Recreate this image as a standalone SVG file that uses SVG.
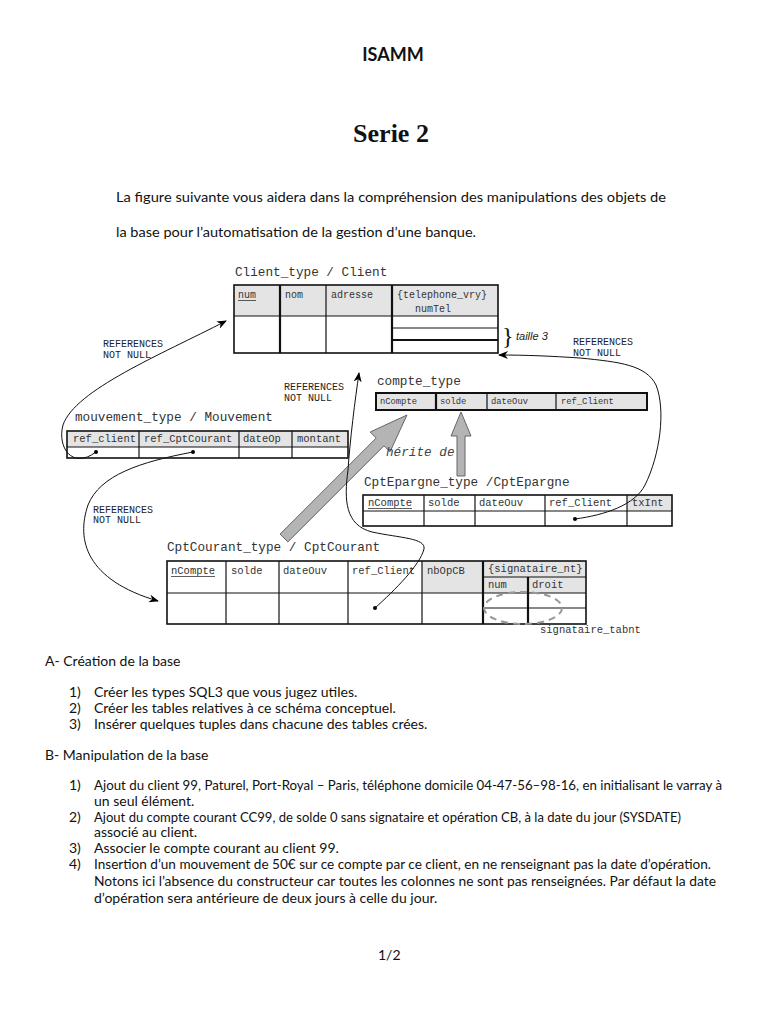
<svg xmlns="http://www.w3.org/2000/svg" width="768" height="1024" viewBox="0 0 768 1024">
<style>
.doc{font-family:Lato,"Liberation Sans",sans-serif;font-size:14px;fill:#111}
.mono{font-family:"Liberation Mono","DejaVu Sans Mono",monospace;fill:#333}
.ttl{font-size:12.7px}
.hd{font-size:10.5px}
.sm{font-size:8.8px}
.ref{font-family:"Liberation Mono",monospace;font-size:10px;fill:#222}
.tb{fill:none;stroke:#111;stroke-width:1.6}
.ln{stroke:#111;stroke-width:1.2}
.thk{stroke:#111;stroke-width:2.2}
.gr{fill:#e4e4e4}
.con{fill:none;stroke:#111;stroke-width:1}
.inh{fill:#b4b4b4;stroke:#666;stroke-width:1}
.dot{fill:#000}
</style>
<defs>
<marker id="ah" viewBox="0 0 10 8" refX="9" refY="4" markerWidth="10" markerHeight="8" markerUnits="userSpaceOnUse" orient="auto">
<path d="M0,0 L10,4 L0,8 L3,4 z" fill="#000"/>
</marker>
</defs>
<rect width="768" height="1024" fill="#fff"/>

<text x="393" y="61" text-anchor="middle" style="font-family:Lato,'Liberation Sans',sans-serif;font-weight:bold;font-size:18px;fill:#111">ISAMM</text>
<text x="391" y="142" text-anchor="middle" style="font-family:'Liberation Serif','DejaVu Serif',serif;font-weight:bold;font-size:26px;fill:#111">Serie 2</text>
<text class="doc" x="116" y="202" textLength="550" lengthAdjust="spacingAndGlyphs">La figure suivante vous aidera dans la compréhension des manipulations des objets de</text>
<text class="doc" x="116" y="237" textLength="360" lengthAdjust="spacingAndGlyphs">la base pour l’automatisation de la gestion d’une banque.</text>

<g id="client">
<text class="mono ttl" x="235" y="276">Client_type / Client</text>
<rect class="gr" x="234" y="285" width="264" height="31"/>
<rect class="tb" x="234" y="285" width="264" height="68"/>
<line class="thk" x1="280" y1="285" x2="280" y2="353"/>
<line class="ln" x1="326" y1="285" x2="326" y2="353"/>
<line class="thk" x1="392" y1="285" x2="392" y2="353"/>
<line class="ln" x1="234" y1="316" x2="498" y2="316"/>
<line class="ln" x1="392" y1="328" x2="498" y2="328"/>
<line class="thk" x1="392" y1="340" x2="498" y2="340"/>
<text class="mono hd" x="238" y="298" style="font-size:10px">num</text>
<line x1="238" y1="300.5" x2="256" y2="300.5" stroke="#333" stroke-width="0.8"/>
<text class="mono hd" x="285" y="298" style="font-size:10px">nom</text>
<text class="mono hd" x="331" y="298" style="font-size:10px">adresse</text>
<text class="mono hd" x="397" y="298" style="font-size:10px">{telephone_vry}</text>
<text class="mono hd" x="415" y="312" style="font-size:10px">numTel</text>
<text x="502" y="344" style="font-family:'Liberation Serif',serif;font-size:24px;fill:#111">}</text>
<text x="516" y="340" style="font-family:'Liberation Sans',sans-serif;font-style:italic;font-size:11px;fill:#222">taille 3</text>
</g>

<g id="mouvement">
<text class="mono ttl" x="75" y="421">mouvement_type / Mouvement</text>
<rect class="gr" x="67" y="431" width="281" height="16"/>
<rect class="tb" x="67" y="431" width="281" height="27"/>
<line class="ln" x1="139" y1="431" x2="139" y2="458"/>
<line class="ln" x1="239" y1="431" x2="239" y2="458"/>
<line class="ln" x1="292" y1="431" x2="292" y2="458"/>
<line class="ln" x1="67" y1="447" x2="348" y2="447"/>
<text class="mono hd" x="73" y="442">ref_client</text>
<text class="mono hd" x="144" y="442">ref_CptCourant</text>
<text class="mono hd" x="243" y="442">dateOp</text>
<text class="mono hd" x="297" y="442">montant</text>
<circle class="dot" cx="96" cy="452" r="2"/>
<circle class="dot" cx="193" cy="452" r="2"/>
</g>

<g id="compte">
<text class="mono ttl" x="377" y="385">compte_type</text>
<rect class="gr" x="376" y="393" width="271" height="17"/>
<rect class="tb" x="376" y="393" width="271" height="17" style="stroke-width:2"/>
<line class="thk" x1="436" y1="393" x2="436" y2="410"/>
<line class="ln" x1="487" y1="393" x2="487" y2="410"/>
<line class="ln" x1="556" y1="393" x2="556" y2="410"/>
<text class="mono sm" x="380" y="404">nCompte</text>
<text class="mono sm" x="440" y="404">solde</text>
<text class="mono sm" x="491" y="404">dateOuv</text>
<text class="mono sm" x="561" y="404">ref_Client</text>
</g>

<g id="cptepargne">
<text class="mono ttl" x="364" y="486">CptEpargne_type /CptEpargne</text>
<rect class="gr" x="627" y="495" width="45" height="16"/>
<rect class="tb" x="363" y="495" width="309" height="31"/>
<line class="ln" x1="424" y1="495" x2="424" y2="526"/>
<line class="ln" x1="475" y1="495" x2="475" y2="526"/>
<line class="ln" x1="545" y1="495" x2="545" y2="526"/>
<line class="ln" x1="627" y1="495" x2="627" y2="526"/>
<line class="ln" x1="363" y1="511" x2="672" y2="511"/>
<text class="mono hd" x="368" y="506">nCompte</text>
<line x1="368" y1="508.5" x2="412" y2="508.5" stroke="#333" stroke-width="0.8"/>
<text class="mono hd" x="428" y="506">solde</text>
<text class="mono hd" x="479" y="506">dateOuv</text>
<text class="mono hd" x="549" y="506">ref_Client</text>
<text class="mono hd" x="632" y="506">txInt</text>
<circle class="dot" cx="575" cy="519" r="2"/>
</g>

<g id="cptcourant">
<text class="mono ttl" x="167" y="551">CptCourant_type / CptCourant</text>
<rect class="gr" x="422" y="561" width="164" height="32"/>
<rect class="tb" x="167" y="561" width="419" height="63"/>
<line class="ln" x1="226" y1="561" x2="226" y2="624"/>
<line class="ln" x1="279" y1="561" x2="279" y2="624"/>
<line class="ln" x1="348" y1="561" x2="348" y2="624"/>
<line class="ln" x1="422" y1="561" x2="422" y2="624"/>
<line class="thk" x1="483" y1="561" x2="483" y2="624"/>
<line class="ln" x1="167" y1="593" x2="586" y2="593"/>
<line class="ln" x1="483" y1="577" x2="586" y2="577"/>
<line class="ln" x1="483" y1="608" x2="586" y2="608"/>
<line class="thk" x1="528" y1="577" x2="528" y2="624"/>
<text class="mono hd" x="171" y="574">nCompte</text>
<line x1="171" y1="576.5" x2="215" y2="576.5" stroke="#333" stroke-width="0.8"/>
<text class="mono hd" x="231" y="574">solde</text>
<text class="mono hd" x="283" y="574">dateOuv</text>
<text class="mono hd" x="352" y="574">ref_Client</text>
<text class="mono hd" x="427" y="574">nbOpCB</text>
<text class="mono hd" x="488" y="572">{signataire_nt}</text>
<text class="mono hd" x="488" y="588">num</text>
<text class="mono hd" x="532" y="588">droit</text>
<circle class="dot" cx="375" cy="608" r="2"/>
<ellipse cx="523" cy="608" rx="39" ry="16" fill="none" stroke="#999" stroke-width="2" stroke-dasharray="7,5"/>
<text class="mono hd" x="540" y="633">signataire_tabnt</text>
</g>

<g id="inheritance">
<polygon class="inh" points="407,415 390,451.8 384,445.8 287.9,541.9 280.1,534.1 376.2,438 370.2,432"/>
<polygon class="inh" points="461,412 471,436 465,436 465,476 457,476 457,436 451,436"/>
<text x="386" y="456" style="font-family:'Liberation Mono',monospace;font-style:italic;font-size:12.7px;fill:#444">hérite de</text>
</g>

<g id="connectors">
<path class="con" marker-end="url(#ah)" d="M96,452 C72,470 57,447 63,425 C75,390 160,355 226,321"/>
<path class="con" marker-end="url(#ah)" d="M193,452 C140,462 100,475 88,505 C76,540 86,580 158,601"/>
<path class="con" marker-end="url(#ah)" d="M375,608 C395,590 420,565 424,549 C426,538 400,538 372,532 C345,525 344,500 348,470 C350,440 355,400 359,373"/>
<path class="con" marker-end="url(#ah)" d="M575,519 C605,515 635,505 645,485 C660,455 666,410 656,385 C646,365 620,362 580,358 C550,356 525,355 499,355"/>
</g>

<g id="labels">
<text class="ref" x="103" y="347">REFERENCES</text>
<text class="ref" x="103" y="358">NOT NULL</text>
<text class="ref" x="284" y="390">REFERENCES</text>
<text class="ref" x="284" y="401">NOT NULL</text>
<text class="ref" x="573" y="345">REFERENCES</text>
<text class="ref" x="573" y="356">NOT NULL</text>
<text class="ref" x="93" y="513">REFERENCES</text>
<text class="ref" x="93" y="523">NOT NULL</text>
</g>

<text class="doc" x="45" y="666">A- Création de la base</text>
<text class="doc" x="69" y="697">1)</text>
<text class="doc" x="94" y="697">Créer les types  SQL3 que vous jugez utiles.</text>
<text class="doc" x="69" y="713">2)</text>
<text class="doc" x="94" y="713">Créer les tables relatives à ce schéma conceptuel.</text>
<text class="doc" x="69" y="729">3)</text>
<text class="doc" x="94" y="729">Insérer quelques tuples dans chacune des tables crées.</text>

<text class="doc" x="45" y="760">B- Manipulation de la base</text>
<text class="doc" x="69" y="790">1)</text>
<text class="doc" x="94" y="790" textLength="628" lengthAdjust="spacingAndGlyphs">Ajout du client 99, Paturel, Port-Royal – Paris, téléphone domicile 04-47-56–98-16, en initialisant le varray à</text>
<text class="doc" x="94" y="806">un seul élément.</text>
<text class="doc" x="69" y="822">2)</text>
<text class="doc" x="94" y="822" textLength="587" lengthAdjust="spacingAndGlyphs">Ajout du compte courant CC99, de solde 0 sans signataire et opération CB, à la date du jour (SYSDATE)</text>
<text class="doc" x="94" y="837">associé au client.</text>
<text class="doc" x="69" y="853">3)</text>
<text class="doc" x="94" y="853">Associer le compte courant au client 99.</text>
<text class="doc" x="69" y="869">4)</text>
<text class="doc" x="94" y="869" textLength="617" lengthAdjust="spacingAndGlyphs">Insertion d’un mouvement de 50€ sur ce compte par ce client, en ne renseignant pas la date d’opération.</text>
<text class="doc" x="94" y="886" textLength="622" lengthAdjust="spacingAndGlyphs">Notons ici l’absence du constructeur car toutes les colonnes ne sont pas renseignées. Par défaut la date</text>
<text class="doc" x="94" y="903">d’opération sera antérieure de deux jours à celle du jour.</text>

<text class="doc" x="378" y="960">1/2</text>
</svg>
